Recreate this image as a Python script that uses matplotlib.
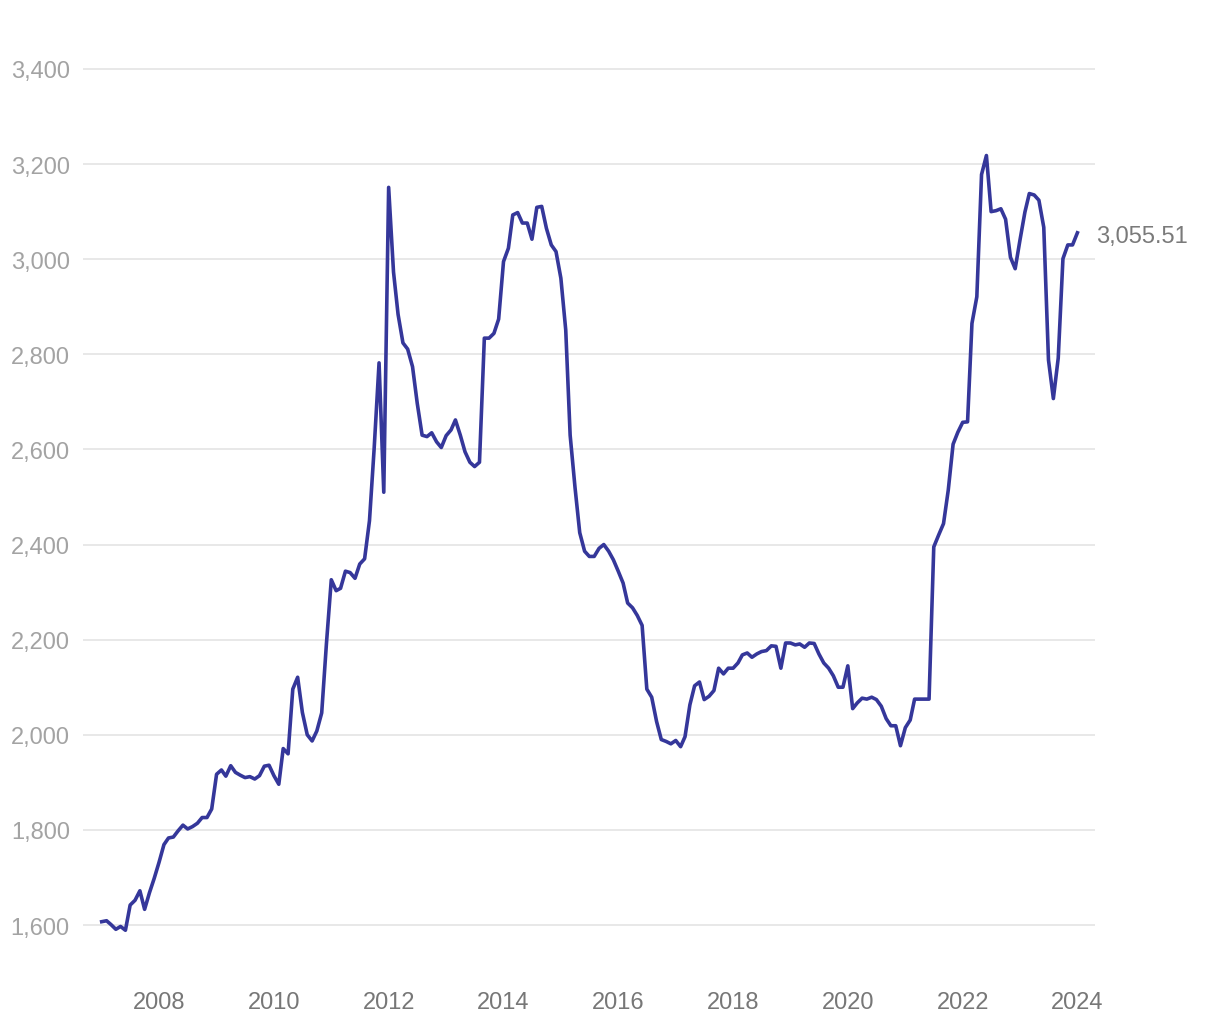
import datetime as dt
import matplotlib
matplotlib.use("Agg")
import matplotlib.pyplot as plt
import matplotlib.dates as mdates
import pandas as pd

dates = pd.date_range("2007-01-01", "2024-01-01", freq="MS")
values = [
    1607, 1609, 1601, 1591, 1597, 1589, 1642, 1652, 1672, 1633, 1668, 1698,
    1732, 1769, 1783, 1785, 1798, 1810, 1802, 1807, 1814, 1826, 1826, 1844,
    1917, 1926, 1913, 1935, 1921, 1915, 1910, 1912, 1907, 1914, 1934, 1936,
    1914, 1896, 1971, 1960, 2096, 2121, 2047, 2000, 1987, 2008, 2046, 2191,
    2326, 2303, 2308, 2344, 2341, 2329, 2359, 2370, 2450, 2603, 2782, 2510,
    3151, 2973, 2884, 2824, 2811, 2774, 2697, 2630, 2627, 2635, 2616, 2604,
    2629, 2641, 2662, 2630, 2595, 2573, 2564, 2573, 2834, 2834, 2844, 2874,
    2995, 3023, 3093, 3098, 3076, 3076, 3042, 3109, 3111, 3065, 3030, 3016,
    2960, 2851, 2630, 2520, 2425, 2386, 2375, 2375, 2392, 2400, 2386, 2368,
    2344, 2319, 2277, 2267, 2251, 2230, 2096, 2079, 2028, 1990, 1986, 1981,
    1988, 1975, 1996, 2063, 2103, 2111, 2074, 2081, 2093, 2140, 2128, 2140,
    2140, 2151, 2168, 2172, 2163, 2170, 2175, 2177, 2187, 2186, 2140, 2193,
    2193, 2189, 2191, 2184, 2193, 2192, 2170, 2151, 2140, 2124, 2100, 2100,
    2145, 2055, 2067, 2077, 2075, 2079, 2074, 2060, 2034, 2019, 2019, 1977,
    2015, 2031, 2075, 2075, 2075, 2075, 2395, 2420, 2444, 2514, 2611, 2636,
    2657, 2658, 2865, 2921, 3178, 3218, 3100, 3102, 3106, 3084, 3004, 2980,
    3041, 3099, 3138, 3135, 3124, 3067, 2788, 2707, 2792, 3001, 3030, 3030,
    3055.51,
]
y_ticks = [1600, 1800, 2000, 2200, 2400, 2600, 2800, 3000, 3200, 3400]
x_tick_years = [2008, 2010, 2012, 2014, 2016, 2018, 2020, 2022, 2024]
last_label = "3,055.51"

plt.rcParams['font.family'] = ['Liberation Sans', 'DejaVu Sans']

fig = plt.figure(figsize=(12.2, 10.2), dpi=100)
ax = fig.add_axes([83/1220, 35/1020, (1095-83)/1220, 955/1020])

ax.plot(dates, values, color='#35379a', lw=2.6, solid_joinstyle='round', zorder=3)

ax.set_ylim(1476, 3484)
ax.set_xlim(dt.datetime(2006, 9, 4), dt.datetime(2024, 4, 22))
ax.set_yticks(y_ticks)
ax.set_yticklabels([f"{v:,}" for v in y_ticks])
ax.set_xticks([dt.datetime(y, 1, 1) for y in x_tick_years])
ax.set_xticklabels([str(y) for y in x_tick_years])

ax.grid(axis='y', color='#e4e4e4', lw=1.2)
ax.grid(axis='x', visible=False)
ax.set_axisbelow(True)
for s in ax.spines.values():
    s.set_visible(False)
ax.tick_params(axis='y', length=0, pad=9.5, labelsize=17, labelcolor='#a3a3a3')
ax.tick_params(axis='x', length=0, pad=5, labelsize=17, labelcolor='#777777')

ax.annotate(last_label, xy=(dates[-1], values[-1]), xytext=(19, -3),
            textcoords='offset pixels', ha='left', va='center',
            fontsize=17, color='#7a7a7a', annotation_clip=False)

fig.savefig("out.png", dpi=100, facecolor='white')
